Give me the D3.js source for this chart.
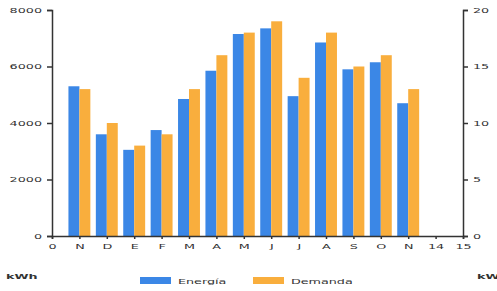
<!DOCTYPE html>
<html>
<head>
<meta charset="utf-8">
<script src="https://cdn.jsdelivr.net/npm/d3@7"></script>
<style>
  body { margin: 0; background: #fff; }
  svg text { font-family: "DejaVu Sans", sans-serif; fill: #333; transform-box: fill-box; }
  .ax-left text { transform-origin: right center; transform: scaleX(1.7); }
  .ax-right text { transform-origin: left center; transform: scaleX(1.7); }
  .ax-bottom text { transform-origin: center center; transform: scaleX(1.7); }
  .stretch { transform-origin: left center; transform: scaleX(1.7); }
</style>
</head>
<body>
<svg id="chart" width="497" height="291"></svg>
<script>
// months on positions 1..13
var months = ["N", "D", "E", "F", "M", "A", "M", "J", "J", "A", "S", "O", "N"];
var xTickLabels = ["0", "N", "D", "E", "F", "M", "A", "M", "J", "J", "A", "S", "O", "N", "14", "15"];
// energy in kWh (left axis)
var energia = [5300, 3600, 3050, 3750, 4850, 5850, 7150, 7350, 4950, 6850, 5900, 6150, 4700];
// demand (right axis)
var demanda = [13, 10, 8, 9, 13, 16, 18, 19, 14, 18, 15, 16, 13];
var leftTicks = [0, 2000, 4000, 6000, 8000];
var rightTicks = [0, 5, 10, 15, 20];

var blue = "#3b87e6", orange = "#f9ae3d";

var svg = d3.select("#chart");

var x = d3.scaleLinear().domain([0, 15]).range([52, 463]);
var yL = d3.scaleLinear().domain([0, 8000]).range([236, 10]);
var yR = d3.scaleLinear().domain([0, 20]).range([236, 10]);
var bw = 0.4; // bar width in x units

// bars
svg.append("g").selectAll("rect")
  .data(energia)
  .join("rect")
  .attr("x", (d, i) => x(i + 1 - bw))
  .attr("width", x(bw) - x(0))
  .attr("y", d => yL(d))
  .attr("height", d => yL(0) - yL(d))
  .attr("fill", blue);

svg.append("g").selectAll("rect")
  .data(demanda)
  .join("rect")
  .attr("x", (d, i) => x(i + 1))
  .attr("width", x(bw) - x(0))
  .attr("y", d => yR(d))
  .attr("height", d => yR(0) - yR(d))
  .attr("fill", orange);

// axes
var gl = svg.append("g").attr("class", "ax-left")
  .attr("transform", "translate(52,0)")
  .call(d3.axisLeft(yL).tickValues(leftTicks).tickFormat(d3.format("d")).tickSize(5).tickPadding(5));

var gr = svg.append("g").attr("class", "ax-right")
  .attr("transform", "translate(463,0)")
  .call(d3.axisRight(yR).tickValues(rightTicks).tickSize(5).tickPadding(5));

var gb = svg.append("g").attr("class", "ax-bottom")
  .attr("transform", "translate(0,236)")
  .call(d3.axisBottom(x).tickValues(d3.range(0, 16)).tickFormat(i => xTickLabels[i]).tickSize(3).tickPadding(5));

[gl, gr, gb].forEach(g => {
  g.select(".domain").attr("stroke", "#333").attr("stroke-width", 1.5);
  g.selectAll(".tick line").attr("stroke", "#333").attr("stroke-width", 1.5);
  g.selectAll("text").attr("font-size", 7.5).attr("fill", "#555");
});

// units
svg.append("text").attr("class", "stretch").attr("x", 6).attr("y", 279)
  .attr("font-size", 7.5).attr("font-weight", "bold").attr("fill", "#333").text("kWh");
svg.append("text").attr("class", "stretch").attr("x", 477).attr("y", 279)
  .attr("font-size", 7.5).attr("font-weight", "bold").attr("fill", "#333").text("kWh");

// legend
var legend = [{name: "Energía", color: blue, x: 140}, {name: "Demanda", color: orange, x: 253}];
var lg = svg.append("g").selectAll("g").data(legend).join("g");
lg.append("rect").attr("x", d => d.x).attr("y", 277).attr("width", 31).attr("height", 7).attr("fill", d => d.color);
lg.append("text").attr("class", "stretch").attr("x", d => d.x + 38).attr("y", 284)
  .attr("font-size", 7.5).attr("fill", "#444").text(d => d.name);
</script>
</body>
</html>
